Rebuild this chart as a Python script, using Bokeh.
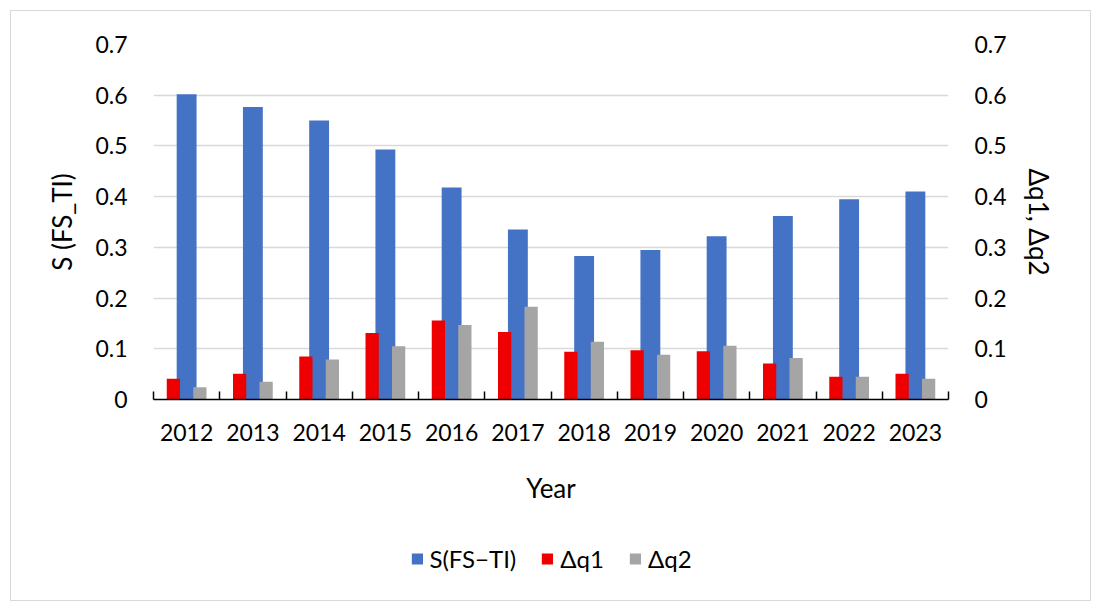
from bokeh.plotting import figure
from bokeh.layouts import column
from bokeh.models import (FactorRange, Range1d, LinearAxis, CategoricalAxis, FixedTicker,
                          Legend, LegendItem)
from bokeh.transform import dodge
from bokeh.embed import file_html
from bokeh.resources import INLINE

years = ["2012", "2013", "2014", "2015", "2016", "2017",
         "2018", "2019", "2020", "2021", "2022", "2023"]
s_fs_ti = [0.602, 0.577, 0.550, 0.493, 0.418, 0.335, 0.283, 0.295, 0.322, 0.362, 0.395, 0.410]
dq1 = [0.041, 0.051, 0.085, 0.131, 0.156, 0.133, 0.094, 0.097, 0.095, 0.071, 0.045, 0.051]
dq2 = [0.024, 0.035, 0.079, 0.105, 0.147, 0.183, 0.114, 0.088, 0.106, 0.082, 0.045, 0.041]
y_ticks = [0, 0.1, 0.2, 0.3, 0.4, 0.5, 0.6, 0.7]
y_tick_labels = ["0", "0.1", "0.2", "0.3", "0.4", "0.5", "0.6", "0.7"]
series_names = ["S(FS\u2212TI)", "\u0394q1", "\u0394q2"]
colors = ["#4472C4", "#EE0000", "#A5A5A5"]

FONT = "Lato"
TICK_SIZE = "23px"
TITLE_SIZE = "26px"

data = dict(year=years, s=s_fs_ti, dq1=dq1, dq2=dq2)

# ---------------- main chart ----------------
p = figure(x_range=FactorRange(*years), y_range=Range1d(0, 0.7),
           frame_width=795, frame_height=355, output_backend="svg", toolbar_location=None,
           x_axis_location=None, min_border_left=142, min_border_right=142,
           min_border_top=33, min_border_bottom=117)
p.outline_line_color = None
p.extra_y_ranges = {"right": Range1d(0, 0.7)}

p.vbar(x="year", top="s", width=0.30, source=data, fill_color=colors[0], line_color=None)
p.vbar(x=dodge("year", -0.2, range=p.x_range), top="dq1", width=0.2, source=data,
       fill_color=colors[1], line_color=None, y_range_name="right")
p.vbar(x=dodge("year", 0.2, range=p.x_range), top="dq2", width=0.2, source=data,
       fill_color=colors[2], line_color=None, y_range_name="right")

p.ygrid.grid_line_color = "#D9D9D9"
p.ygrid.grid_line_width = 1.3
p.ygrid.ticker = FixedTicker(ticks=y_ticks)
for g in p.xgrid:
    g.visible = False

overrides = {t: lab for t, lab in zip(y_ticks, y_tick_labels)}

def style_y(ax, title):
    ax.ticker = FixedTicker(ticks=y_ticks)
    ax.major_label_overrides = overrides
    ax.axis_line_color = None
    ax.major_tick_line_color = None
    ax.minor_tick_line_color = None
    ax.major_label_standoff = 20
    ax.major_label_text_font = FONT
    ax.major_label_text_font_size = TICK_SIZE
    ax.major_label_text_color = "#000000"
    ax.axis_label = title
    ax.axis_label_text_font = FONT
    ax.axis_label_text_font_size = TITLE_SIZE
    ax.axis_label_text_font_style = "normal"
    ax.axis_label_text_color = "#000000"
    ax.axis_label_standoff = 14

style_y(p.yaxis[0], "S (FS_TI)")
right_axis = LinearAxis(y_range_name="right")
style_y(right_axis, "\u0394q1, \u0394q2")
right_axis.axis_label_standoff = 13
p.add_layout(right_axis, "right")

tick_axis = LinearAxis(ticker=FixedTicker(ticks=list(range(len(years) + 1))))
tick_axis.axis_line_color = "#000000"
tick_axis.axis_line_width = 1.5
tick_axis.major_tick_line_color = "#000000"
tick_axis.major_tick_line_width = 1.5
tick_axis.major_tick_in = 8
tick_axis.major_tick_out = 0
tick_axis.minor_tick_line_color = None
tick_axis.major_label_text_font_size = "0px"
tick_axis.major_label_text_alpha = 0
tick_axis.major_label_standoff = 0
p.add_layout(tick_axis, "below")

cat_axis = CategoricalAxis()
cat_axis.axis_line_color = None
cat_axis.major_tick_line_color = None
cat_axis.major_tick_out = 0
cat_axis.major_label_standoff = 24
cat_axis.major_label_text_font = FONT
cat_axis.major_label_text_font_size = TICK_SIZE
cat_axis.major_label_text_color = "#000000"
cat_axis.axis_label = "Year"
cat_axis.axis_label_text_font = FONT
cat_axis.axis_label_text_font_size = TITLE_SIZE
cat_axis.axis_label_text_font_style = "normal"
cat_axis.axis_label_text_color = "#000000"
cat_axis.axis_label_standoff = 28
p.add_layout(cat_axis, "below")

# ---------------- legend strip ----------------
q = figure(x_range=FactorRange(*years), y_range=Range1d(10, 11),
           width=1079, height=84, output_backend="svg", toolbar_location=None,
           x_axis_location=None, y_axis_location=None, min_border=0)
q.outline_line_color = None
q.grid.visible = False
# same series, drawn outside the strip's visible range: they only feed the legend keys
l_blue = q.vbar(x="year", top="s", width=0.30, source=data, fill_color=colors[0], line_color=None)
l_red = q.vbar(x="year", top="dq1", width=0.2, source=data, fill_color=colors[1], line_color=None)
l_gray = q.vbar(x="year", top="dq2", width=0.2, source=data, fill_color=colors[2], line_color=None)

legend = Legend(items=[LegendItem(label=series_names[0], renderers=[l_blue]),
                       LegendItem(label=series_names[1], renderers=[l_red]),
                       LegendItem(label=series_names[2], renderers=[l_gray])],
                orientation="horizontal", location="center",
                border_line_color=None, background_fill_alpha=0,
                glyph_width=14, glyph_height=14, label_standoff=6, spacing=24,
                padding=0, margin=0, label_text_font=FONT, label_text_font_size="24px",
                label_text_color="#000000")
q.add_layout(legend)

layout = column(p, q, spacing=0,
                styles={"border": "1px solid #D9D9D9", "margin-left": "10px",
                        "margin-top": "10px"})

open("out.html", "w").write(file_html(layout, INLINE))
